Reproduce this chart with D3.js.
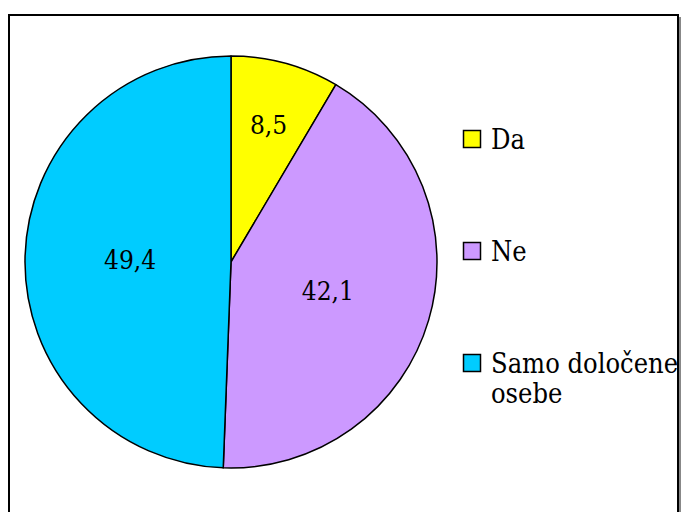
<!DOCTYPE html>
<html>
<head>
<meta charset="utf-8">
<script src="https://cdn.jsdelivr.net/npm/d3@7"></script>
<style>
  body { margin: 0; background: #fff; }
  svg { display: block; }
  svg text { font-family: 'DejaVu Serif Condensed', 'DejaVu Serif', serif; font-stretch: condensed; }
</style>
</head>
<body>
<div id="chart"></div>
<script>
// data
const categories = ['Da', 'Ne', 'Samo določene osebe']
const values = [8.5, 42.1, 49.4]
const labels = ['8,5', '42,1', '49,4']
const legendLines = [['Da'], ['Ne'], ['Samo določene', 'osebe']]

// style
const colors = ['#ffff00', '#cc99ff', '#00ccff']
const labelRadius = [0.69, 0.49, 0.49]

// size
const width = 682
const height = 512
const cx = 231
const cy = 262
const radius = 206

const svg = d3
  .select('#chart')
  .append('svg')
  .attr('width', width)
  .attr('height', height)

const color = d3.scaleOrdinal().domain(categories).range(colors)

const pie = d3
  .pie()
  .sort(null)
  .value(d => d.value)

const arcs = pie(categories.map((c, i) => ({ name: c, value: values[i], label: labels[i] })))

const arc = d3.arc().innerRadius(0).outerRadius(radius)

const plot = svg.append('g').attr('transform', `translate(${cx}, ${cy})`)

// slices
plot
  .selectAll('path.slice')
  .data(arcs)
  .enter()
  .append('path')
  .attr('class', 'slice')
  .attr('d', arc)
  .attr('fill', d => color(d.data.name))
  .attr('stroke', '#000')
  .attr('stroke-width', 1.5)
  .attr('stroke-linejoin', 'round')

// value labels
plot
  .selectAll('text.value')
  .data(arcs)
  .enter()
  .append('text')
  .attr('class', 'value')
  .attr('transform', (d, i) => {
    const r = radius * labelRadius[i]
    const a = (d.startAngle + d.endAngle) / 2
    return `translate(${Math.sin(a) * r}, ${-Math.cos(a) * r})`
  })
  .attr('text-anchor', 'middle')
  .attr('dy', '0.35em')
  .style('font-size', '26px')
  .text(d => d.data.label)

// legend
const legendY = d3.scalePoint().domain(categories).range([139, 363])

const legend = svg.append('g')

categories.forEach((c, i) => {
  const row = legend.append('g').attr('transform', `translate(463, ${legendY(c)})`)

  row
    .append('rect')
    .attr('x', 0.5)
    .attr('y', -8.5)
    .attr('width', 17)
    .attr('height', 17)
    .attr('fill', color(c))
    .attr('stroke', '#000')
    .attr('stroke-width', 1.5)

  const t = row
    .append('text')
    .attr('x', 28)
    .attr('y', 9.5)
    .style('font-size', '27px')

  legendLines[i].forEach((line, j) => {
    t.append('tspan')
      .attr('x', 28)
      .attr('dy', j === 0 ? 0 : 30)
      .text(line)
  })
})

// frame
svg
  .append('line')
  .attr('x1', 680)
  .attr('x2', 680)
  .attr('y1', 17)
  .attr('y2', height)
  .attr('stroke', '#888')
  .attr('stroke-width', 2)

svg
  .append('rect')
  .attr('x', 9)
  .attr('y', 15)
  .attr('width', 669)
  .attr('height', 600)
  .attr('fill', 'none')
  .attr('stroke', '#000')
  .attr('stroke-width', 2)
</script>
</body>
</html>
